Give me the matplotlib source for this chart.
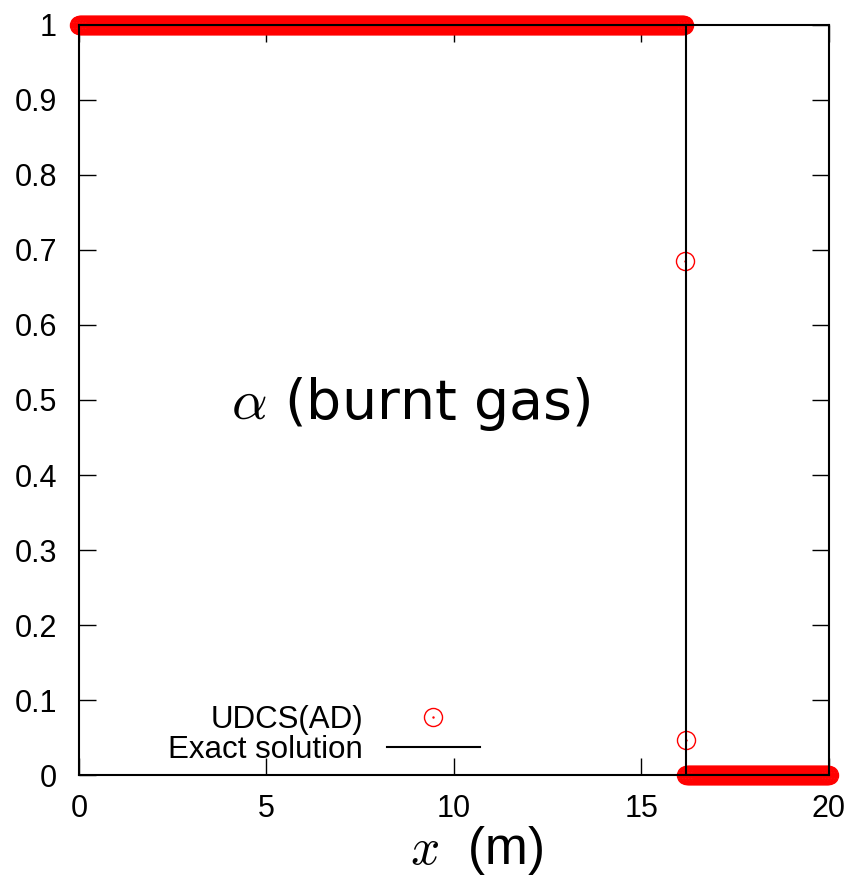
import numpy as np
import matplotlib
matplotlib.use("Agg")
import matplotlib.pyplot as plt
from matplotlib.legend_handler import HandlerTuple

plt.rcParams['font.family'] = ['Liberation Sans', 'DejaVu Sans']
plt.rcParams['mathtext.fontset'] = 'cm'

# numerical solution (UDCS(AD)) on a uniform grid, dx = 0.02 m
x_num = np.linspace(0, 20, 1001)
x_front = [16.16, 16.18]        # the two cells inside the front
alpha_front = [0.685, 0.047]    # their values
alpha_num = np.where(x_num < 16.15, 1.0, 0.0)
for xf, af in zip(x_front, alpha_front):
    alpha_num[np.isclose(x_num, xf)] = af

# exact solution: step at the flame front
x_exact = [0, 16.19, 16.19, 20]
alpha_exact = [1, 1, 0, 0]

x_ticks = [0, 5, 10, 15, 20]
y_ticks = [0, 0.1, 0.2, 0.3, 0.4, 0.5, 0.6, 0.7, 0.8, 0.9, 1]
y_tick_labels = ['0', '0.1', '0.2', '0.3', '0.4', '0.5', '0.6', '0.7', '0.8', '0.9', '1']

fig = plt.figure(figsize=(8.54, 8.77), dpi=100)
ax = fig.add_axes([0.0925, 0.1163, 0.8782, 0.8552])

circ, = ax.plot(x_num, alpha_num, 'o', mfc='none', mec='red', mew=1.0, ms=13,
                clip_on=False, zorder=3)
dot, = ax.plot(x_num, alpha_num, '.', color='red', ms=1.5, clip_on=False, zorder=3)
line, = ax.plot(x_exact, alpha_exact, color='black', lw=1.5, zorder=4)

ax.set_xlim(0, 20)
ax.set_ylim(0, 1)
ax.set_xticks(x_ticks)
ax.set_yticks(y_ticks)
ax.set_yticklabels(y_tick_labels)
ax.tick_params(direction='in', length=12, width=1, labelsize=22,
               top=True, right=True)
ax.tick_params(axis='y', pad=16)
ax.tick_params(axis='x', pad=14)
for sp in ax.spines.values():
    sp.set_linewidth(1.5)
    sp.set_zorder(5)

ax.text(0.442, 0.494, r'$\alpha$ (burnt gas)', transform=ax.transAxes,
        fontsize=40, ha='center', va='center', family='DejaVu Sans')

ax.set_xlabel(r'$x$  (m)', fontsize=37)
ax.xaxis.set_label_coords(0.53, -0.1)
ax.xaxis.label.set_va('center')

ax.legend([(circ, dot), line], ['UDCS(AD)', 'Exact solution'],
          handler_map={tuple: HandlerTuple(ndivide=1)},
          loc='lower left', bbox_to_anchor=(0.09, -0.016), frameon=False,
          markerfirst=False, fontsize=22.5, handlelength=3.0, handletextpad=0.75,
          labelspacing=0.02, borderpad=0.2)

fig.savefig('out.png', dpi=100)
plt.close()
